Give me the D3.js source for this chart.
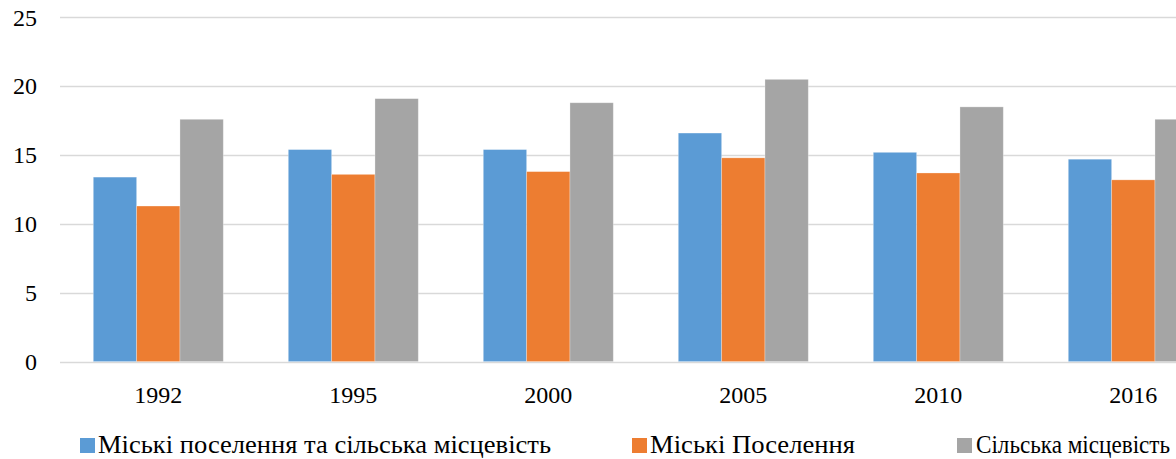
<!DOCTYPE html>
<html>
<head>
<meta charset="utf-8">
<script src="https://cdn.jsdelivr.net/npm/d3@7"></script>
<style>
html,body{margin:0;padding:0;background:#fff;overflow:hidden;}
svg{display:block;}
svg text{font-family:"Liberation Serif","Tinos","Times New Roman","DejaVu Serif","Noto Serif",Times,serif !important;fill:#000;}
</style>
</head>
<body>
<svg id="chart" width="1176" height="459"></svg>
<script>
const categories = ["1992", "1995", "2000", "2005", "2010", "2016"];
const seriesNames = ["Міські поселення та сільська місцевість", "Міські Поселення", "Сільська місцевість"];
const seriesTotal = [13.4, 15.4, 15.4, 16.6, 15.2, 14.7];
const seriesUrban = [11.3, 13.6, 13.8, 14.8, 13.7, 13.2];
const seriesRural = [17.6, 19.1, 18.8, 20.5, 18.5, 17.6];
const yTicks = [0, 5, 10, 15, 20, 25];
const colors = ["#5B9BD5", "#ED7D31", "#A5A5A5"];

const series = [seriesTotal, seriesUrban, seriesRural];
const svg = d3.select("#chart");

const x0 = d3.scaleBand().domain(categories).range([60.8, 1230.8]).paddingInner(1/3).paddingOuter(1/6);
const x1 = d3.scaleBand().domain(d3.range(series.length)).range([0, x0.bandwidth()]);
const y = d3.scaleLinear().domain([0, 25]).range([361.6, 17.4]);

// gridlines
svg.append("g").selectAll("line").data(yTicks).join("line")
  .attr("x1", 60).attr("x2", 1176)
  .attr("y1", d => Math.round(y(d)) + 0.5).attr("y2", d => Math.round(y(d)) + 0.5)
  .attr("stroke", "#D9D9D9").attr("stroke-width", 1.5);

// y axis labels
const yAxis = d3.axisLeft(y).tickValues(yTicks).tickSize(0).tickPadding(0);
const gy = svg.append("g").attr("transform", "translate(37,0)").call(yAxis);
gy.attr("font-family", null);
gy.select(".domain").remove();
gy.selectAll("text").attr("font-size", 24).attr("fill", "#000").attr("dy", "0.32em");

// bars
const groups = svg.append("g").selectAll("g").data(categories).join("g")
  .attr("transform", d => `translate(${x0(d)},0)`);
groups.selectAll("rect").data((c, i) => series.map((s, k) => ({k, v: s[i]}))).join("rect")
  .attr("x", d => x1(d.k))
  .attr("width", x1.bandwidth())
  .attr("y", d => y(d.v))
  .attr("height", d => y(0) - y(d.v))
  .attr("fill", d => colors[d.k])
  .attr("stroke", "#ffffff").attr("stroke-opacity", 0.35).attr("stroke-width", 0.8);

// x axis labels
const xAxis = d3.axisBottom(x0).tickSize(0).tickPadding(0);
const gx = svg.append("g").attr("transform", "translate(0,386)").call(xAxis);
gx.attr("font-family", null);
gx.select(".domain").remove();
gx.selectAll("text").attr("font-size", 24).attr("fill", "#000").attr("dy", "0.72em");

// legend
const legendPos = [{sx: 80, tx: 98, tw: 453}, {sx: 632, tx: 650, tw: 205}, {sx: 957, tx: 976, tw: 194}];
const lg = svg.append("g").selectAll("g").data(seriesNames).join("g");
lg.append("rect")
  .attr("x", (d, i) => legendPos[i].sx).attr("y", 438).attr("width", 15).attr("height", 15)
  .attr("fill", (d, i) => colors[i]);
lg.append("text")
  .attr("x", (d, i) => legendPos[i].tx).attr("y", 453)
  .attr("font-size", 25)
  .attr("textLength", (d, i) => legendPos[i].tw).attr("lengthAdjust", "spacingAndGlyphs")
  .text(d => d);
</script>
</body>
</html>
